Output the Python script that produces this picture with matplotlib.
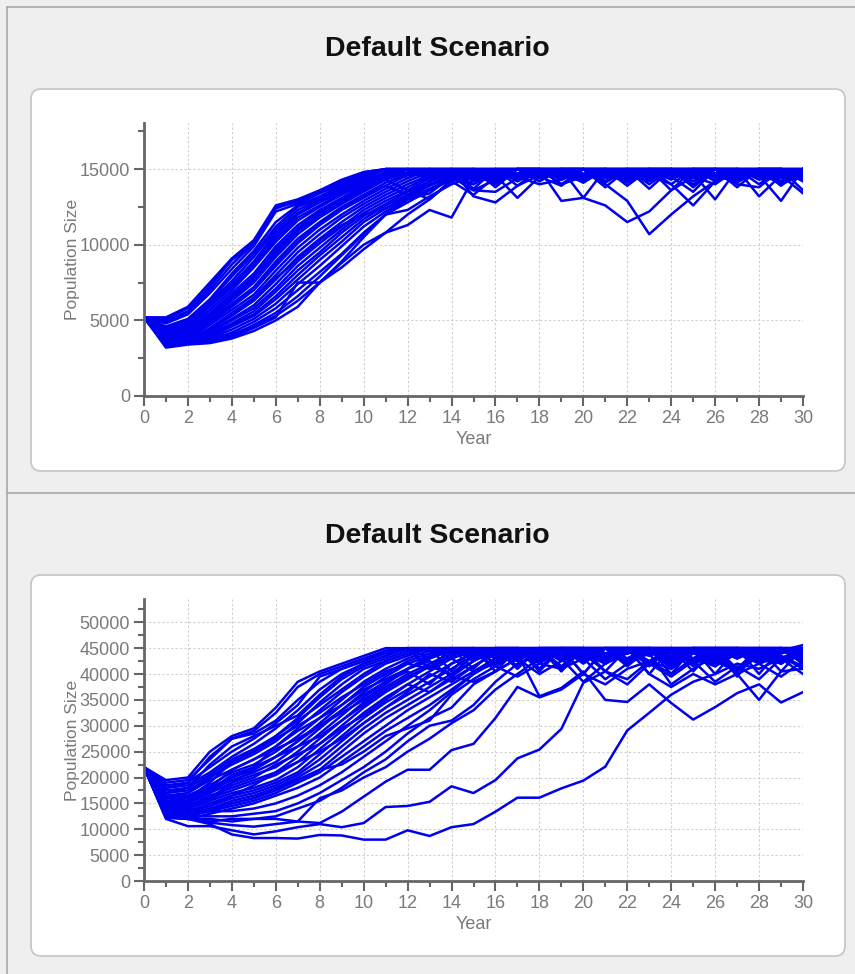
import matplotlib
matplotlib.use("Agg")
import matplotlib.pyplot as plt
import numpy as np
from matplotlib.patches import FancyBboxPatch
from matplotlib.lines import Line2D
from matplotlib.transforms import IdentityTransform
from matplotlib.ticker import MultipleLocator

years = list(range(31))

# population runs, in thousands (scenario 1, capped at 15000)
runs_top = [
    [5.2, 5.2, 5.9, 7.5, 9.1, 10.3, 12.6, 13.0, 13.6, 14.3, 14.8, 15.0, 15.0, 15.0, 15.0, 14.6, 15.0, 15.0, 15.0, 14.8, 15.0, 15.0, 15.0, 14.5, 15.0, 15.0, 14.7, 15.0, 15.0, 15.0, 14.6],
    [5.2, 5.0, 5.6, 7.2, 9.0, 10.0, 12.4, 12.9, 13.5, 14.2, 14.7, 15.0, 14.6, 15.0, 15.0, 15.0, 13.8, 15.0, 15.0, 15.0, 14.6, 15.0, 13.9, 15.0, 15.0, 14.8, 15.0, 15.0, 14.0, 15.0, 15.0],
    [5.2, 4.8, 5.4, 6.8, 8.4, 9.9, 12.2, 12.7, 13.4, 14.0, 14.6, 15.0, 15.0, 14.5, 15.0, 13.7, 15.0, 15.0, 14.7, 15.0, 15.0, 13.8, 15.0, 15.0, 14.6, 15.0, 15.0, 14.9, 15.0, 13.9, 15.0],
    [5.2, 4.6, 5.1, 6.4, 8.1, 9.6, 11.5, 12.6, 13.2, 13.9, 14.5, 15.0, 14.4, 15.0, 14.7, 15.0, 15.0, 13.9, 15.0, 15.0, 14.5, 15.0, 15.0, 13.7, 15.0, 15.0, 14.6, 15.0, 15.0, 15.0, 14.2],
    [5.2, 4.4, 4.9, 6.2, 7.6, 9.2, 11.0, 12.3, 13.0, 13.7, 14.4, 15.0, 15.0, 15.0, 14.3, 15.0, 14.6, 15.0, 15.0, 14.0, 15.0, 15.0, 14.6, 15.0, 13.6, 15.0, 15.0, 14.4, 15.0, 15.0, 14.8],
    [5.2, 4.2, 4.7, 6.0, 7.3, 8.8, 10.6, 12.0, 12.8, 13.5, 14.2, 14.8, 15.0, 14.6, 15.0, 15.0, 14.1, 15.0, 14.6, 15.0, 15.0, 14.4, 15.0, 14.8, 15.0, 13.8, 15.0, 15.0, 14.6, 15.0, 15.0],
    [5.2, 4.0, 4.5, 5.7, 7.0, 8.5, 10.2, 11.6, 12.5, 13.3, 14.0, 14.7, 15.0, 15.0, 14.8, 14.0, 15.0, 14.7, 15.0, 14.3, 15.0, 15.0, 14.1, 15.0, 15.0, 14.6, 15.0, 13.8, 15.0, 14.7, 15.0],
    [5.2, 3.9, 4.4, 5.5, 6.8, 8.1, 9.9, 11.3, 12.3, 13.1, 13.9, 14.6, 15.0, 14.4, 15.0, 15.0, 14.5, 15.0, 15.0, 14.0, 14.6, 15.0, 15.0, 14.5, 15.0, 15.0, 14.2, 15.0, 14.8, 15.0, 14.5],
    [5.2, 3.8, 4.2, 5.3, 6.5, 7.8, 9.5, 11.0, 12.0, 12.9, 13.7, 14.4, 15.0, 15.0, 14.6, 14.4, 15.0, 15.0, 14.2, 15.0, 15.0, 14.8, 15.0, 15.0, 14.4, 15.0, 14.7, 15.0, 15.0, 14.1, 15.0],
    [5.2, 3.7, 4.1, 5.1, 6.3, 7.5, 9.2, 10.7, 11.8, 12.7, 13.5, 14.3, 14.8, 15.0, 15.0, 14.2, 15.0, 14.5, 15.0, 15.0, 14.3, 15.0, 14.6, 15.0, 15.0, 13.9, 15.0, 15.0, 14.5, 15.0, 14.6],
    [5.2, 3.6, 4.0, 5.0, 6.1, 7.2, 8.9, 10.4, 11.5, 12.5, 13.3, 14.1, 14.7, 15.0, 14.3, 15.0, 14.8, 15.0, 15.0, 14.4, 15.0, 14.1, 15.0, 15.0, 14.8, 15.0, 15.0, 14.6, 15.0, 15.0, 14.3],
    [5.2, 3.6, 3.9, 4.8, 5.9, 7.0, 8.6, 10.1, 11.3, 12.3, 13.1, 13.9, 14.6, 15.0, 15.0, 14.6, 14.3, 15.0, 14.8, 15.0, 15.0, 14.5, 15.0, 14.3, 15.0, 15.0, 14.5, 15.0, 14.7, 15.0, 15.0],
    [5.2, 3.5, 3.8, 4.7, 5.7, 6.7, 8.3, 9.8, 11.0, 12.0, 12.9, 13.7, 14.4, 15.0, 14.8, 15.0, 15.0, 14.2, 15.0, 15.0, 14.7, 15.0, 15.0, 14.0, 15.0, 14.6, 15.0, 15.0, 14.4, 15.0, 14.8],
    [5.2, 3.5, 3.7, 4.5, 5.5, 6.5, 8.0, 9.5, 10.7, 11.8, 12.7, 13.5, 14.2, 14.8, 15.0, 14.5, 15.0, 15.0, 14.6, 15.0, 14.2, 15.0, 14.8, 15.0, 15.0, 14.2, 15.0, 14.8, 15.0, 15.0, 14.4],
    [5.2, 3.4, 3.7, 4.4, 5.3, 6.3, 7.7, 9.2, 10.4, 11.5, 12.5, 13.3, 14.0, 14.6, 15.0, 15.0, 14.4, 15.0, 15.0, 14.6, 15.0, 15.0, 14.4, 15.0, 14.5, 15.0, 15.0, 14.3, 15.0, 14.6, 15.0],
    [5.2, 3.4, 3.6, 4.3, 5.1, 6.0, 7.4, 8.9, 10.1, 11.2, 12.3, 13.1, 13.8, 14.5, 15.0, 14.3, 15.0, 14.7, 15.0, 15.0, 14.4, 15.0, 15.0, 14.7, 15.0, 15.0, 14.5, 15.0, 15.0, 14.2, 15.0],
    [5.2, 3.3, 3.6, 4.2, 5.0, 5.8, 7.1, 8.6, 9.8, 11.0, 12.1, 12.9, 13.6, 14.4, 14.9, 15.0, 14.6, 15.0, 14.4, 15.0, 15.0, 14.6, 15.0, 15.0, 14.0, 15.0, 14.7, 15.0, 14.6, 15.0, 14.9],
    [5.2, 3.3, 3.5, 4.1, 4.8, 5.6, 6.9, 8.3, 9.5, 10.8, 11.9, 12.7, 13.5, 14.2, 14.7, 15.0, 15.0, 14.4, 15.0, 14.7, 15.0, 15.0, 14.3, 15.0, 15.0, 14.8, 15.0, 14.4, 15.0, 15.0, 14.7],
    [5.2, 3.3, 3.5, 4.0, 4.7, 5.4, 6.6, 8.0, 9.3, 10.5, 11.7, 12.6, 13.3, 14.0, 14.6, 15.0, 14.5, 15.0, 15.0, 14.5, 15.0, 14.8, 15.0, 14.6, 15.0, 15.0, 14.3, 15.0, 15.0, 14.5, 15.0],
    [5.2, 3.4, 3.5, 3.9, 4.6, 5.3, 6.4, 7.7, 9.0, 10.2, 11.5, 12.4, 13.1, 13.9, 14.5, 14.8, 15.0, 14.6, 15.0, 15.0, 14.6, 15.0, 15.0, 14.4, 15.0, 14.7, 15.0, 15.0, 14.4, 15.0, 14.5],
    [5.2, 3.6, 3.5, 3.8, 4.4, 5.1, 6.1, 7.4, 8.6, 9.9, 11.2, 12.2, 13.0, 13.7, 14.4, 14.6, 15.0, 15.0, 14.2, 15.0, 15.0, 14.4, 15.0, 15.0, 14.6, 15.0, 15.0, 14.7, 15.0, 14.8, 15.0],
    [5.2, 3.5, 3.5, 3.7, 4.2, 4.9, 5.8, 7.0, 8.2, 9.4, 10.8, 12.0, 12.8, 13.6, 14.3, 14.0, 14.8, 15.0, 15.0, 14.6, 15.0, 15.0, 14.6, 15.0, 14.3, 15.0, 15.0, 14.5, 15.0, 15.0, 14.3],
    [5.2, 3.4, 3.5, 3.6, 4.0, 4.7, 5.5, 6.6, 7.9, 9.3, 10.7, 12.0, 12.3, 13.2, 14.0, 14.5, 14.8, 14.4, 15.0, 15.0, 14.5, 15.0, 14.6, 15.0, 15.0, 14.0, 15.0, 15.0, 14.4, 15.0, 14.7],
    [5.2, 3.6, 3.6, 3.7, 4.1, 4.6, 5.3, 6.3, 7.5, 8.9, 10.5, 12.0, 13.0, 13.4, 14.5, 13.6, 14.3, 15.0, 14.5, 15.0, 15.0, 14.2, 15.0, 15.0, 14.8, 15.0, 14.5, 15.0, 15.0, 14.6, 15.0],
    [5.2, 3.2, 3.4, 3.5, 3.8, 4.3, 5.0, 5.9, 7.5, 8.5, 9.7, 10.8, 11.3, 12.3, 11.8, 14.4, 14.2, 15.0, 14.7, 15.0, 15.0, 14.6, 15.0, 15.0, 14.4, 15.0, 15.0, 14.6, 15.0, 15.0, 14.8],
    [5.2, 3.5, 3.5, 3.6, 3.9, 4.5, 5.2, 7.5, 7.5, 8.8, 10.0, 10.8, 12.0, 13.0, 14.2, 13.3, 14.5, 15.0, 15.0, 14.3, 15.0, 15.0, 14.7, 15.0, 15.0, 14.6, 15.0, 14.9, 15.0, 14.4, 15.0],
    [5.2, 3.8, 4.3, 5.4, 6.6, 7.9, 9.6, 11.1, 12.1, 13.0, 13.8, 14.5, 15.0, 14.6, 15.0, 15.0, 14.4, 15.0, 15.0, 14.7, 15.0, 14.0, 12.9, 10.7, 12.0, 13.2, 14.2, 15.0, 14.6, 15.0, 15.0],
    [5.2, 4.1, 4.6, 5.9, 7.2, 8.6, 10.4, 11.8, 12.6, 13.4, 14.1, 14.8, 15.0, 15.0, 14.5, 13.6, 13.5, 14.4, 15.0, 12.9, 13.1, 12.6, 11.5, 12.2, 13.6, 14.5, 15.0, 14.3, 15.0, 15.0, 14.5],
    [5.2, 4.5, 5.0, 6.3, 7.9, 9.4, 11.2, 12.5, 13.1, 13.8, 14.5, 15.0, 15.0, 14.2, 15.0, 13.2, 12.8, 13.9, 14.6, 15.0, 14.4, 14.8, 15.0, 14.6, 14.0, 12.6, 14.2, 15.0, 13.2, 14.6, 13.4],
    [5.2, 3.9, 4.3, 5.4, 6.6, 7.9, 9.7, 11.1, 12.2, 13.0, 13.7, 14.3, 13.6, 13.0, 14.3, 15.0, 14.6, 13.1, 14.5, 15.0, 13.1, 15.0, 14.5, 15.0, 15.0, 14.7, 13.0, 15.0, 14.6, 12.9, 15.0],
    [5.2, 3.7, 4.2, 5.2, 6.4, 7.7, 9.4, 10.9, 11.9, 12.8, 13.6, 14.4, 15.0, 14.7, 14.6, 15.0, 15.0, 14.5, 14.0, 14.3, 15.0, 15.0, 14.3, 15.0, 14.5, 13.5, 15.0, 14.0, 13.8, 15.0, 14.2],
    [5.2, 4.9, 5.5, 7.0, 8.7, 10.1, 12.5, 12.8, 13.5, 14.1, 14.7, 15.0, 15.0, 15.0, 15.0, 14.5, 15.0, 14.2, 15.0, 14.0, 14.5, 15.0, 14.7, 14.2, 15.0, 14.5, 14.0, 15.0, 14.3, 14.6, 15.0],
    [5.2, 4.3, 4.8, 6.1, 7.4, 8.9, 10.8, 12.1, 12.9, 13.6, 14.3, 15.0, 14.7, 15.0, 15.0, 14.6, 15.0, 15.0, 14.5, 13.9, 15.0, 14.7, 15.0, 14.6, 14.4, 15.0, 15.0, 14.2, 15.0, 14.0, 14.6],
    [5.2, 3.5, 3.9, 4.9, 6.0, 7.1, 8.7, 10.2, 11.4, 12.4, 13.2, 13.9, 13.3, 14.2, 15.0, 14.7, 14.0, 15.0, 15.0, 14.8, 14.1, 15.0, 15.0, 14.5, 15.0, 15.0, 14.6, 14.1, 15.0, 15.0, 13.6],
    [5.2, 3.4, 3.6, 4.4, 5.4, 6.4, 7.8, 9.0, 10.3, 11.3, 12.0, 12.4, 13.2, 14.0, 14.6, 15.0, 14.2, 15.0, 14.6, 15.0, 15.0, 14.6, 14.2, 15.0, 15.0, 14.4, 15.0, 15.0, 14.5, 14.2, 15.0],
    [5.2, 5.1, 5.8, 7.4, 9.0, 10.2, 12.5, 12.9, 13.5, 14.2, 14.8, 15.0, 15.0, 14.8, 15.0, 15.0, 15.0, 14.6, 15.0, 15.0, 15.0, 14.5, 15.0, 15.0, 14.7, 15.0, 15.0, 15.0, 14.8, 15.0, 15.0],
]

# population runs, in thousands (scenario 2, capped at 45000)
runs_bottom = [
    [22.0, 19.5, 20.0, 25.0, 28.0, 29.5, 33.5, 38.5, 40.5, 42.0, 43.5, 45.0, 45.0, 45.0, 45.0, 43.0, 45.0, 45.0, 41.0, 45.0, 45.0, 42.5, 45.0, 45.0, 45.0, 40.5, 45.0, 45.0, 44.0, 45.0, 45.0],
    [22.0, 19.0, 19.5, 23.5, 27.5, 29.0, 32.5, 37.5, 40.0, 41.5, 43.0, 44.5, 45.0, 41.0, 45.0, 45.0, 42.0, 45.0, 45.0, 40.5, 45.0, 45.0, 41.5, 45.0, 44.5, 45.0, 45.0, 39.5, 45.0, 45.0, 44.0],
    [22.0, 18.5, 19.0, 22.0, 25.0, 27.5, 30.5, 34.0, 39.5, 41.0, 42.5, 44.0, 45.0, 45.0, 40.5, 45.0, 45.0, 41.5, 45.0, 45.0, 44.0, 45.0, 45.0, 40.0, 45.0, 45.0, 42.0, 45.0, 45.0, 40.5, 45.0],
    [22.0, 18.0, 18.5, 21.0, 24.0, 26.5, 29.5, 33.0, 37.0, 40.0, 42.0, 43.5, 45.0, 43.0, 45.0, 41.0, 45.0, 45.0, 42.5, 45.0, 40.0, 45.0, 45.0, 44.0, 45.0, 41.5, 45.0, 45.0, 40.0, 45.0, 45.0],
    [22.0, 17.5, 18.0, 20.5, 23.5, 25.5, 28.0, 31.5, 35.5, 39.0, 41.5, 43.0, 44.5, 45.0, 45.0, 42.5, 45.0, 41.0, 45.0, 45.0, 42.0, 45.0, 44.5, 45.0, 40.0, 45.0, 45.0, 41.0, 45.0, 44.0, 45.0],
    [22.0, 17.0, 17.5, 20.0, 22.5, 24.5, 27.0, 30.5, 34.5, 38.0, 41.0, 42.5, 44.0, 45.0, 44.0, 45.0, 40.5, 45.0, 45.0, 41.0, 45.0, 45.0, 43.0, 45.0, 45.0, 42.5, 45.0, 40.5, 45.0, 45.0, 42.5],
    [22.0, 16.5, 17.0, 19.5, 21.5, 23.5, 26.0, 29.5, 33.0, 36.5, 39.5, 42.0, 43.5, 45.0, 45.0, 43.0, 45.0, 45.0, 40.5, 45.0, 45.0, 44.0, 45.0, 42.0, 45.0, 45.0, 40.0, 45.0, 44.5, 42.0, 45.0],
    [22.0, 16.0, 16.5, 18.5, 21.0, 22.5, 25.0, 28.0, 31.5, 35.0, 38.5, 41.0, 43.0, 44.5, 45.0, 45.0, 42.0, 45.0, 44.0, 45.0, 40.0, 45.0, 45.0, 44.5, 42.5, 45.0, 45.0, 41.0, 45.0, 45.0, 43.0],
    [22.0, 16.0, 16.0, 18.0, 20.0, 21.5, 24.0, 27.0, 30.5, 34.0, 37.5, 40.0, 42.5, 44.0, 45.0, 44.0, 45.0, 43.0, 45.0, 45.0, 44.5, 42.0, 45.0, 45.0, 41.0, 45.0, 42.5, 45.0, 45.0, 43.5, 41.5],
    [22.0, 15.5, 15.5, 17.5, 19.5, 21.0, 23.0, 26.0, 29.5, 33.0, 36.5, 39.5, 42.0, 43.5, 45.0, 45.0, 43.5, 45.0, 42.0, 45.0, 45.0, 40.5, 45.0, 44.0, 45.0, 43.0, 45.0, 45.0, 42.5, 45.0, 45.0],
    [22.0, 15.0, 15.0, 17.0, 19.0, 20.5, 22.0, 25.0, 28.5, 32.0, 35.5, 38.5, 41.0, 43.0, 44.5, 45.0, 45.0, 42.5, 45.0, 43.5, 45.0, 45.0, 44.0, 45.0, 41.5, 45.0, 44.0, 45.0, 45.0, 43.0, 45.0],
    [22.0, 15.0, 14.5, 16.5, 18.0, 19.5, 21.0, 24.0, 27.5, 31.0, 34.5, 37.5, 40.0, 42.0, 44.0, 45.0, 44.0, 45.0, 45.0, 42.5, 45.0, 43.0, 45.0, 45.0, 44.0, 42.5, 45.0, 45.0, 44.0, 45.0, 43.5],
    [22.0, 14.5, 14.5, 16.0, 17.5, 19.0, 20.5, 23.0, 26.5, 30.0, 33.5, 36.5, 39.0, 41.5, 43.5, 45.0, 43.0, 45.0, 44.5, 45.0, 43.0, 45.0, 45.0, 42.0, 45.0, 45.0, 43.5, 45.0, 42.0, 45.0, 44.5],
    [22.0, 14.0, 14.0, 15.5, 17.0, 18.0, 19.5, 22.0, 25.5, 29.0, 32.5, 35.5, 38.0, 40.5, 43.0, 44.5, 45.0, 44.0, 45.0, 45.0, 43.5, 45.0, 42.5, 45.0, 45.0, 44.0, 45.0, 43.0, 45.0, 44.5, 45.0],
    [22.0, 14.0, 13.5, 15.0, 16.5, 17.5, 19.0, 21.0, 24.5, 28.0, 31.5, 34.5, 37.0, 39.5, 42.0, 44.0, 45.0, 45.0, 43.0, 45.0, 44.0, 45.0, 45.0, 43.5, 45.0, 42.0, 45.0, 45.0, 44.0, 43.0, 45.0],
    [22.0, 13.5, 13.5, 14.5, 16.0, 17.0, 18.5, 20.5, 23.5, 27.0, 30.5, 33.5, 36.0, 38.5, 41.0, 43.5, 45.0, 43.5, 45.0, 44.0, 45.0, 43.0, 45.0, 45.0, 42.5, 45.0, 44.5, 45.0, 43.0, 45.0, 42.0],
    [22.0, 13.0, 13.0, 14.0, 15.5, 16.5, 18.0, 20.0, 22.5, 26.0, 29.5, 32.5, 35.0, 37.5, 40.0, 42.5, 44.5, 45.0, 43.5, 45.0, 45.0, 42.0, 44.0, 45.0, 45.0, 43.0, 45.0, 44.0, 45.0, 45.0, 43.5],
    [22.0, 13.0, 13.0, 13.5, 15.0, 16.0, 17.5, 19.5, 21.5, 25.0, 28.5, 31.5, 34.0, 36.5, 39.0, 41.5, 44.0, 42.5, 45.0, 45.0, 43.5, 45.0, 45.0, 41.5, 45.0, 44.0, 45.0, 45.0, 43.0, 45.0, 44.0],
    [22.0, 12.5, 12.5, 13.5, 14.5, 15.5, 17.0, 19.0, 21.0, 24.0, 27.0, 30.0, 33.0, 35.5, 38.0, 40.5, 43.0, 45.0, 44.0, 45.0, 42.5, 45.0, 44.0, 45.0, 45.0, 42.5, 45.0, 45.0, 44.0, 45.0, 45.0],
    [22.0, 12.5, 12.0, 13.0, 14.0, 15.0, 16.5, 18.0, 20.0, 23.0, 26.0, 29.0, 31.5, 34.0, 37.0, 40.0, 42.5, 44.5, 45.0, 43.0, 45.0, 45.0, 43.0, 45.0, 44.0, 45.0, 43.5, 45.0, 45.0, 42.5, 45.0],
    [22.0, 18.0, 19.0, 24.0, 27.5, 28.5, 31.0, 35.0, 38.5, 41.0, 42.5, 44.5, 45.0, 44.5, 45.0, 45.0, 43.0, 45.0, 45.0, 44.5, 45.0, 43.5, 45.0, 45.0, 43.0, 45.0, 45.0, 44.0, 45.0, 44.5, 45.6],
    [22.0, 17.0, 18.0, 22.5, 26.0, 28.0, 30.0, 32.0, 36.0, 39.5, 42.0, 43.5, 45.0, 45.0, 44.5, 43.5, 45.0, 45.0, 41.0, 45.0, 45.0, 44.0, 43.0, 45.0, 45.0, 44.5, 41.5, 45.0, 45.0, 44.0, 45.0],
    [22.0, 16.5, 16.0, 19.0, 23.0, 25.0, 27.5, 30.0, 32.5, 35.5, 38.0, 40.5, 42.0, 41.0, 43.5, 45.0, 45.0, 43.0, 45.0, 41.5, 45.0, 45.0, 44.0, 45.0, 43.0, 45.0, 45.0, 43.5, 45.0, 42.5, 45.0],
    [22.0, 15.5, 16.0, 18.0, 21.5, 23.5, 25.5, 27.5, 30.0, 33.0, 36.0, 38.5, 40.5, 38.0, 42.0, 44.0, 45.0, 44.5, 42.0, 45.0, 45.0, 43.0, 45.0, 45.0, 42.0, 45.0, 45.0, 44.5, 42.5, 45.0, 44.0],
    [22.0, 14.5, 15.0, 17.0, 20.0, 22.0, 24.0, 26.0, 28.0, 31.0, 34.0, 37.0, 39.5, 41.5, 40.0, 43.5, 45.0, 45.0, 44.0, 45.0, 42.5, 45.0, 45.0, 44.0, 45.0, 45.0, 43.0, 45.0, 44.0, 45.0, 42.5],
    [22.0, 13.5, 14.0, 15.5, 18.5, 20.0, 22.5, 24.5, 26.5, 29.5, 32.0, 35.0, 38.0, 36.5, 39.5, 42.5, 45.0, 43.5, 45.0, 45.0, 44.0, 42.0, 45.0, 45.0, 43.5, 45.0, 44.0, 45.0, 45.0, 42.0, 45.0],
    [22.0, 13.0, 13.5, 14.5, 16.5, 18.5, 21.0, 23.0, 25.0, 27.5, 30.5, 33.5, 36.5, 40.0, 38.5, 41.5, 44.0, 45.0, 43.5, 45.0, 45.0, 43.0, 45.0, 44.0, 45.0, 43.0, 45.0, 45.0, 43.5, 45.0, 44.0],
    [22.0, 14.5, 14.0, 13.5, 13.5, 14.0, 15.0, 16.5, 18.5, 21.0, 24.0, 27.0, 30.0, 33.0, 36.5, 40.0, 42.5, 44.0, 45.0, 45.0, 43.0, 45.0, 45.0, 42.5, 45.0, 44.0, 45.0, 43.0, 45.0, 45.0, 44.0],
    [22.0, 13.5, 12.5, 12.5, 12.5, 13.0, 13.5, 15.0, 17.0, 19.5, 22.0, 25.0, 28.5, 31.5, 33.5, 38.0, 40.5, 43.0, 45.0, 43.5, 45.0, 45.0, 42.0, 45.0, 43.0, 45.0, 45.0, 44.5, 45.0, 42.5, 45.0],
    [22.0, 12.5, 12.0, 12.0, 11.5, 12.0, 12.5, 14.0, 15.5, 18.0, 21.0, 23.5, 27.0, 30.0, 31.0, 34.0, 38.5, 42.0, 44.0, 45.0, 45.0, 43.5, 45.0, 45.0, 42.0, 45.0, 45.0, 44.0, 45.0, 45.0, 43.0],
    [22.0, 13.0, 12.5, 11.5, 12.0, 12.0, 12.0, 11.5, 16.0, 17.5, 20.0, 22.0, 25.0, 27.5, 30.5, 33.0, 37.0, 40.0, 43.0, 44.5, 45.0, 43.0, 45.0, 42.0, 45.0, 45.0, 43.0, 45.0, 44.5, 45.0, 42.0],
    [22.0, 12.3, 12.0, 11.3, 10.8, 10.5, 11.0, 11.5, 11.2, 13.4, 16.3, 19.2, 21.5, 21.5, 25.3, 26.5, 31.5, 37.5, 35.5, 37.0, 40.0, 38.0, 41.0, 42.5, 40.0, 43.0, 41.5, 44.0, 42.0, 43.5, 41.0],
    [22.0, 12.0, 10.6, 10.6, 9.8, 9.0, 9.6, 10.4, 11.0, 10.4, 11.2, 14.3, 14.5, 15.3, 18.3, 17.0, 19.5, 23.7, 25.4, 29.4, 38.3, 40.5, 39.0, 42.5, 41.0, 44.0, 42.5, 40.5, 43.5, 42.0, 44.5],
    [22.0, 12.2, 12.0, 11.0, 9.0, 8.3, 8.3, 8.2, 8.9, 8.8, 8.0, 8.0, 9.8, 8.7, 10.4, 11.0, 13.4, 16.1, 16.1, 17.9, 19.4, 22.1, 29.1, 32.5, 36.0, 38.5, 40.0, 42.0, 41.0, 43.0, 41.5],
    [22.0, 16.0, 17.0, 20.0, 23.0, 25.0, 28.0, 31.0, 34.0, 37.0, 40.0, 42.5, 44.0, 45.0, 43.0, 40.5, 42.0, 44.0, 35.7, 37.3, 40.5, 35.0, 34.6, 38.0, 34.4, 31.2, 33.6, 36.3, 38.0, 34.5, 36.5],
    [22.0, 14.0, 14.5, 16.0, 19.0, 21.5, 24.0, 27.0, 30.0, 32.5, 35.0, 38.0, 41.0, 43.5, 45.0, 44.0, 41.5, 44.0, 45.0, 43.0, 38.5, 42.0, 45.0, 40.0, 37.5, 40.0, 38.0, 40.0, 35.0, 40.5, 41.0],
    [22.0, 15.0, 15.5, 17.5, 20.5, 22.0, 26.0, 29.0, 31.5, 34.0, 37.0, 39.0, 41.0, 42.5, 39.5, 38.5, 40.5, 43.0, 40.0, 42.5, 44.0, 40.5, 38.0, 42.0, 39.5, 42.5, 38.5, 41.5, 39.0, 43.0, 40.0],
    [22.0, 12.5, 13.0, 14.0, 15.0, 16.0, 18.0, 19.5, 21.5, 22.5, 25.0, 28.0, 29.5, 31.0, 36.0, 39.0, 41.5, 39.5, 42.0, 41.0, 43.0, 39.0, 42.0, 44.0, 38.0, 41.0, 43.5, 40.0, 42.0, 39.5, 42.5],
]

title = "Default Scenario"
x_label = "Year"
y_label = "Population Size"

W, H = 855, 974
fig = plt.figure(figsize=(W / 100, H / 100), dpi=100)
fig.patch.set_facecolor("#efefef")

px = IdentityTransform()

# outer frame and divider
fig.add_artist(Line2D([7, W], [H - 7, H - 7], transform=px, color="#a8a8a8", lw=1.2))
fig.add_artist(Line2D([7, 7], [0, H - 7], transform=px, color="#a8a8a8", lw=1.2))
fig.add_artist(Line2D([7, W], [H - 493, H - 493], transform=px, color="#a8a8a8", lw=1.2))

# white rounded cards (pixel coords, y from top)
for top, bottom in [(89, 471), (575, 956)]:
    card = FancyBboxPatch((31, H - bottom), 814, bottom - top,
                          boxstyle="round,pad=0,rounding_size=10",
                          transform=px, facecolor="white",
                          edgecolor="#c4c4c4", lw=1.2, zorder=-1)
    fig.add_artist(card)

tick_grey = "#7a7a7a"
spine_grey = "#666666"
line_blue = "#0000f0"


def draw_panel(rect, runs, ymax, yticks, title_y):
    fig.text(437.5 / W, 1 - title_y / H, title, ha="center", va="center",
             fontsize=20.5, fontweight="bold", family="Liberation Sans",
             color="#111111")
    ax = fig.add_axes(rect)
    ax.set_facecolor("white")
    for run in runs:
        ax.plot(years, np.array(run) * 1000, color=line_blue, lw=1.8)
    ax.set_xlim(0, 30)
    ax.set_ylim(0, ymax)
    ax.set_xticks(range(0, 31, 2))
    ax.xaxis.set_minor_locator(MultipleLocator(1))
    ax.set_yticks(yticks)
    ax.yaxis.set_minor_locator(MultipleLocator(2500))
    ax.grid(True, which="major", color="#cfcfcf", lw=0.8, ls=(0, (2, 2)))
    ax.set_axisbelow(True)
    for s in ["top", "right"]:
        ax.spines[s].set_visible(False)
    for s in ["left", "bottom"]:
        ax.spines[s].set_color(spine_grey)
        ax.spines[s].set_linewidth(2)
    ax.tick_params(which="major", length=7, width=1.5, color=spine_grey,
                   labelcolor=tick_grey, labelsize=13, pad=3)
    ax.tick_params(which="minor", length=4, width=1.5, color=spine_grey)
    for lab in ax.get_xticklabels() + ax.get_yticklabels():
        lab.set_family("Liberation Sans")
    ax.set_xlabel(x_label, color=tick_grey, fontsize=13,
                  family="Liberation Sans", labelpad=3)
    ax.set_ylabel(y_label, color=tick_grey, fontsize=12.5,
                  family="Liberation Sans", labelpad=0)
    return ax


draw_panel([144 / W, 1 - 396 / H, 659 / W, 273 / H], runs_top, 18050,
           [0, 5000, 10000, 15000], 49)
draw_panel([144 / W, 1 - 881 / H, 659 / W, 282 / H], runs_bottom, 54500,
           list(range(0, 50001, 5000)), 536)

fig.savefig("out.png", dpi=100, facecolor=fig.get_facecolor())
